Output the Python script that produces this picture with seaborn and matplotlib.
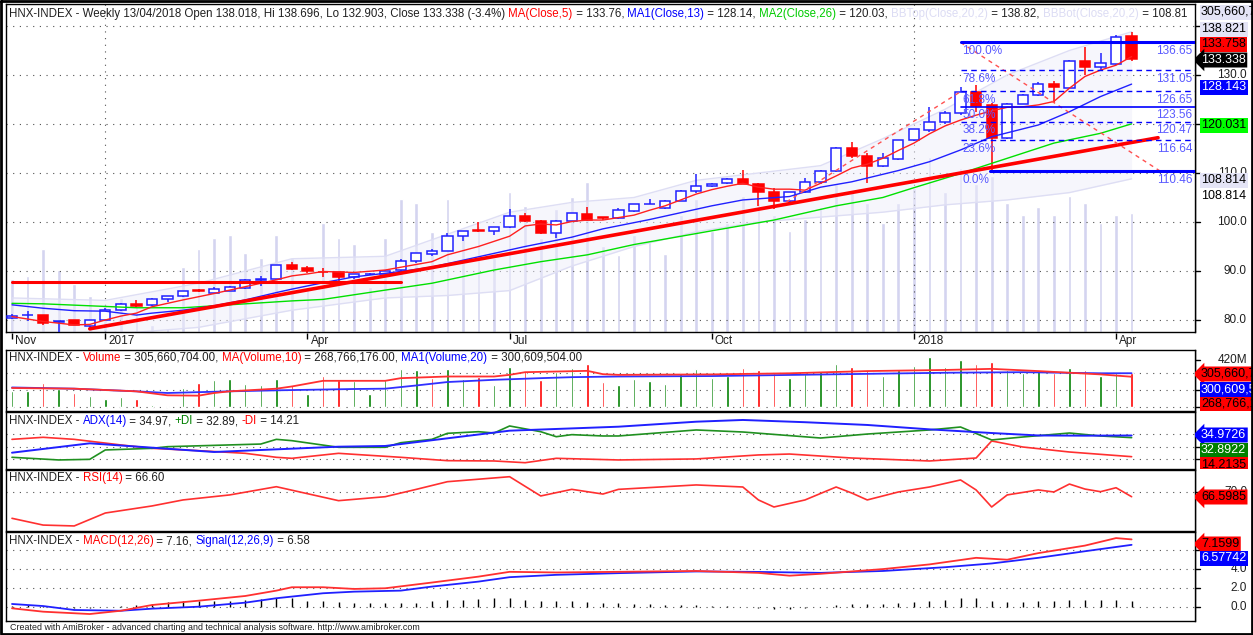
import numpy as np
import matplotlib
matplotlib.use("Agg")
import matplotlib.pyplot as plt
import matplotlib.transforms as mtransforms
import seaborn as sns

W, H = 1253, 635

# ---------------- data ----------------
opens = [80.5, 81.0, 81.0, 79.6, 79.9, 78.8, 80.0, 82.0, 83.2, 83.0,
         84.2, 84.8, 86.1, 85.6, 86.0, 86.5, 88.25, 88.3, 91.2, 90.7,
         89.8, 89.7, 88.7, 89.35, 89.4, 90.2, 92.0, 93.5, 94.1, 97.1,
         98.3, 98.2, 98.9, 101.2, 100.3, 97.7, 100.2, 101.6, 101.0, 100.75,
         102.3, 103.65, 102.8, 104.3, 106.4, 107.3, 107.9, 108.8, 107.8, 106.1,
         104.3, 106.2, 108.1, 110.5, 115.2, 113.5, 111.4, 112.9, 116.7, 118.8,
         120.5, 122.2, 126.6, 123.9, 117.2, 124.1, 125.9, 128.1, 127.4, 132.9,
         131.7, 132.2, 138.018]
highs = [81.2, 81.8, 81.1, 79.7, 80.0, 80.1, 82.5, 83.4, 84.0, 84.5,
         85.0, 86.0, 86.3, 86.8, 87.0, 88.3, 88.9, 91.3, 91.8, 91.1,
         90.6, 89.8, 89.3, 89.5, 90.3, 92.4, 93.7, 94.4, 97.7, 98.2,
         100.1, 99.0, 102.6, 101.8, 100.4, 100.4, 101.9, 103.0, 101.1, 102.8,
         103.7, 104.7, 104.4, 106.5, 109.8, 107.9, 108.9, 110.6, 107.9, 106.9,
         106.2, 108.9, 110.6, 115.3, 116.4, 114.0, 114.1, 116.8, 119.0, 123.4,
         122.7, 127.6, 128.0, 124.2, 124.3, 126.2, 128.6, 128.8, 133.0, 135.8,
         134.5, 138.2, 138.696]
lows = [80.2, 79.8, 78.9, 77.3, 78.9, 78.6, 79.9, 81.8, 82.4, 82.9,
        83.6, 84.6, 85.8, 85.3, 85.9, 86.4, 86.9, 88.2, 90.3, 89.6,
        88.8, 87.8, 88.4, 89.2, 89.3, 90.1, 91.6, 93.0, 94.0, 96.2,
        98.0, 97.3, 98.8, 100.0, 97.6, 96.7, 100.1, 100.3, 100.4, 100.6,
        102.1, 103.6, 102.7, 104.2, 105.9, 107.2, 107.8, 107.7, 103.3, 102.6,
        104.1, 106.0, 107.8, 110.3, 113.0, 108.0, 111.3, 112.7, 116.5, 118.4,
        120.0, 121.8, 122.5, 110.46, 117.0, 124.0, 125.7, 124.3, 127.2, 129.9,
        131.0, 132.0, 132.903]
closes = [80.9, 81.05, 79.3, 79.7, 79.0, 80.0, 82.0, 83.2, 82.9, 84.3,
          84.9, 85.9, 86.0, 86.3, 86.8, 88.2, 88.35, 91.2, 90.5, 89.9,
          89.7, 88.7, 89.3, 89.45, 90.1, 92.0, 93.6, 94.1, 97.1, 98.2,
          98.2, 98.9, 101.2, 100.2, 97.7, 100.3, 101.8, 100.5, 100.9, 102.4,
          103.6, 103.7, 104.3, 106.4, 107.3, 107.8, 108.8, 107.8, 106.1, 104.3,
          106.1, 108.1, 110.5, 115.2, 113.5, 111.4, 113.0, 116.7, 118.9, 120.5,
          122.2, 126.6, 123.7, 117.1, 124.1, 125.9, 128.1, 127.5, 132.9, 131.7,
          132.4, 137.7, 133.338]

# weekly volume, millions, and whether the volume bar is green
volume = [137, 143, 212, 158, 122, 92, 71, 87, 71, 18,
          9, 167, 212, 241, 250, 203, 190, 250, 190, 116,
          280, 241, 226, 116, 241, 340, 331, 256, 340, 250,
          271, 190, 360, 322, 241, 315, 346, 384, 221, 197,
          250, 230, 200, 300, 340, 260, 280, 350, 330, 300,
          260, 290, 320, 380, 360, 330, 280, 330, 370, 450,
          360, 420, 380, 400, 330, 300, 320, 300, 350, 330,
          280, 300, 305.66]
vol_up = "ggrgrgggrgggrgggggrgrrgggggrggrggrrggrrg" + "gggggggrrrggggrrggggggrrgggrgrggr"

tick_bars = [0, 6, 19, 32, 45, 58, 71]
tick_names = ["Nov", "2017", "Apr", "Jul", "Oct", "2018", "Apr"]

ma5_idx = [0, 2, 4, 5, 6, 7, 8, 9, 11, 13, 15, 17, 18, 19, 20, 22, 24, 27, 28, 30,
           32, 33, 34, 35, 36, 37, 38, 40, 41, 42, 44, 45, 46, 47, 48, 49, 50, 51, 52, 53,
           54, 55, 56, 57, 58, 59, 60, 61, 62, 63, 64, 65, 66, 67, 68, 69, 70, 71, 72]
ma5_val = [80.7, 79.7, 79.0, 79.1, 80.0, 80.8, 81.4, 82.7, 84.1, 85.4, 86.8, 88.2, 89.0, 89.4, 89.9, 89.7, 90.2, 91.9, 93.3, 95.0,
           97.1, 99.2, 99.6, 99.4, 100.1, 100.4, 100.4, 101.4, 102.4, 103.3, 105.7, 106.6, 107.3, 107.9, 107.1, 106.7, 106.7, 106.5, 107.9, 109.4,
           111.0, 111.8, 113.0, 114.6, 116.1, 118.0, 119.6, 120.8, 121.8, 122.7, 123.4, 123.5, 123.9, 124.6, 127.3, 129.7, 131.0, 132.0, 133.76]
ma13_idx = [0, 2, 4, 6, 8, 9, 11, 13, 15, 17, 18, 20, 22, 25, 27, 29, 31, 33, 36, 38,
            41, 43, 45, 47, 50, 52, 54, 57, 59, 61, 63, 66, 68, 70, 72]
ma13_val = [83.1, 82.4, 81.9, 81.8, 81.0, 81.4, 82.0, 82.9, 84.1, 85.6, 86.3, 87.6, 88.8, 89.9, 90.8, 92.2, 93.6, 95.0, 96.9, 98.6,
            100.5, 101.9, 103.3, 104.5, 105.2, 107.1, 108.2, 110.5, 112.3, 114.7, 117.4, 119.8, 122.5, 125.6, 128.14]
ma26_idx = [0, 2, 5, 8, 11, 14, 16, 18, 20, 24, 27, 31, 34, 37, 40, 45, 49, 53, 56, 58, 61, 64, 67, 70, 72]
ma26_val = [83.4, 83.3, 82.9, 82.5, 82.5, 83.1, 83.5, 83.9, 84.2, 86.1, 87.5, 90.2, 91.9, 93.3, 95.4, 98.2, 100.4, 103.3, 105.0, 107.0,
            109.9, 113.0, 116.1, 118.1, 120.03]
bb_idx = [0, 6, 12, 18, 24, 28, 32, 36, 40, 44, 48, 52, 56, 60, 64, 68, 72]
bb_top = [84.5, 84.0, 87.5, 92.5, 93.0, 97.5, 102.0, 104.0, 105.0, 108.5, 110.0, 111.5, 117.0, 123.0, 130.0, 135.0, 138.82]
bb_bot = [77.5, 77.0, 78.5, 82.0, 84.5, 85.0, 86.0, 91.0, 95.0, 98.0, 100.0, 101.0, 102.0, 103.5, 104.5, 106.0, 108.81]

trend_x = [5, 73.7]
trend_y = [78.2, 117.2]
flat_x = [0, 25]
flat_y = [87.8, 87.8]
fib_levels = [136.65, 131.05, 126.65, 123.56, 120.47, 116.64, 110.46]
fib_names = ["100.0%", "78.6%", "61.8%", "50.0%", "38.2%", "23.6%", "0.0%"]
fib_diag_x = [61, 73.8]
fib_diag_y = [136.65, 110.46]
chan_x = [49.8, 61]
chan_y = [104.1, 126.6]

vma10_idx = [0, 4, 8, 10, 12, 13, 14, 17, 18, 20, 24, 25, 28, 31, 32, 33, 37, 38, 39, 45, 50, 55, 60, 63, 66, 70, 72]
vma10_val = [167, 161, 137, 101, 98, 122, 137, 161, 181, 232, 232, 256, 271, 271, 286, 310, 322, 292, 286, 290, 300, 320, 330, 340, 320, 290, 268.8]
vma20_idx = [0, 4, 8, 10, 14, 17, 22, 24, 26, 28, 31, 34, 36, 39, 45, 50, 55, 60, 65, 70, 72]
vma20_val = [172, 161, 137, 122, 137, 146, 158, 161, 190, 221, 241, 256, 265, 271, 275, 285, 295, 305, 310, 300, 300.6]

adx_idx = [0, 5, 13, 21, 24, 32, 39, 44, 47, 51, 55, 59, 63, 66, 69, 72]
adx_val = [18.1, 27.3, 18.8, 24.0, 24.7, 39.7, 43.6, 48.5, 50.2, 48.0, 45.3, 41.0, 37.4, 35.0, 34.8, 34.97]
pdi_idx = [0, 3, 5, 6, 9, 10, 16, 17, 18, 21, 24, 25, 27, 28, 30, 31, 32, 34, 35, 36,
           38, 39, 44, 47, 52, 55, 59, 61, 63, 65, 68, 70, 72]
pdi_val = [13.6, 11.0, 11.6, 20.8, 22.4, 24.0, 26.6, 31.2, 29.9, 23.4, 23.4, 27.9, 31.2, 37.1, 38.7, 37.4, 44.3, 38.7, 33.8, 35.8,
           34.5, 34.5, 40.4, 38.4, 32.5, 36.4, 40.4, 43.3, 30.6, 33.5, 37.4, 34.5, 32.89]
mdi_idx = [0, 2, 4, 7, 9, 12, 15, 17, 18, 21, 22, 25, 28, 31, 33, 35, 39, 44, 48, 50, 54, 59, 62, 63, 65, 68, 72]
mdi_val = [31.2, 33.2, 31.2, 25.7, 22.4, 20.1, 17.5, 13.6, 12.6, 17.5, 16.5, 13.6, 10.3, 10.0, 8.3, 12.6, 11.0, 12.0, 15.9, 16.8,
           12.9, 10.0, 12.9, 29.6, 23.7, 18.8, 14.21]

rsi_idx = [0, 2, 4, 6, 9, 11, 14, 17, 21, 24, 26, 28, 32, 34, 36, 38, 39, 44, 47, 48,
           49, 51, 53, 54, 55, 57, 59, 61, 62, 63, 64, 66, 67, 68, 69, 70, 71, 72]
rsi_val = [51.9, 47.3, 46.7, 55.5, 60.3, 64.4, 67.8, 73.4, 63.9, 66.6, 71.6, 76.8, 80.2, 67.1, 71.6, 68.4, 71.6, 74.6, 73.2, 64.4,
           59.6, 64.4, 73.2, 69.1, 64.4, 69.8, 73.2, 78.0, 71.2, 59.6, 67.8, 71.2, 69.8, 75.2, 71.8, 70.0, 72.7, 66.6]

macd_idx = [0, 2, 5, 7, 9, 12, 15, 17, 18, 20, 22, 24, 27, 30, 32, 35, 39, 44, 48, 50, 52, 56, 59, 62, 64, 66, 69, 71, 72]
macd_val = [-0.17, -0.53, -0.78, -0.43, 0.18, 0.64, 1.14, 1.71, 2.07, 2.07, 1.89, 1.96, 2.57, 3.2, 3.71, 3.64, 3.71, 3.8, 3.6, 3.3,
            3.5, 4.0, 4.5, 5.2, 5.0, 5.7, 6.5, 7.3, 7.16]
sig_idx = [0, 2, 4, 7, 9, 12, 15, 17, 20, 22, 25, 27, 30, 32, 35, 39, 44, 48, 52, 56, 60, 63, 66, 69, 72]
sig_val = [0.29, 0.07, -0.35, -0.43, -0.21, 0.0, 0.43, 0.9, 1.43, 1.6, 1.71, 2.14, 2.67, 3.14, 3.39, 3.57, 3.75, 3.7, 3.6, 3.8,
           4.2, 4.6, 5.2, 5.9, 6.58]
macd_hist = [0.1, 0.18, 0.07, 0.0, -0.1, -0.1, 0.0, 0.07, 0.18, 0.25,
             0.46, 0.6, 0.6, 0.64, 0.64, 0.71, 0.82, 0.96, 0.89, 0.6,
             0.6, 0.53, 0.43, 0.35, 0.43, 0.43, 0.43, 0.6, 0.71, 0.71,
             0.82, 0.89, 0.89, 0.71, 0.64, 0.64, 0.6, 0.53, 0.43, 0.35,
             0.3, 0.25, 0.2, 0.15, 0.15, 0.1, 0.05, 0.0, -0.1, -0.2,
             -0.2, -0.1, 0.0, 0.2, 0.3, 0.3, 0.3, 0.4, 0.5, 0.6,
             0.7, 0.9, 0.9, 0.6, 0.5, 0.5, 0.6, 0.6, 0.7, 0.7,
             0.7, 0.7, 0.58]

# ---------------- style ----------------
sns.set_theme(style="white")
plt.rcParams['font.family'] = ['Liberation Sans', 'DejaVu Sans']

BLUE = "#0000ff"
RED = "#ff0000"
LIME = "#00e000"
DKGREEN = "#008000"
LAV = "#d4d4f0"
DOTS = (0, (1, 5))
HEAD_FS = 8.3

fig = plt.figure(figsize=(W / 100, H / 100), dpi=100)
R = fig.canvas.get_renderer()

PL, PR = 6, 1195
XLIM = ((PL - 12) / 15.55, (PR - 12) / 15.55)


def add_ax(x0, y0, x1, y1):
    return fig.add_axes([x0 / W, 1 - y1 / H, (x1 - x0) / W, (y1 - y0) / H])


def panel(y0, y1, ylim):
    ax = add_ax(PL, y0, PR, y1)
    ax.set_xlim(*XLIM)
    ax.set_ylim(*ylim)
    ax.set_xticks([])
    ax.set_yticks([])
    for s in ax.spines.values():
        s.set_color("black")
        s.set_linewidth(1)
    return ax


def line(ax, xs, ys, color, lw=1.0, ls="-", z=5):
    sns.lineplot(x=xs, y=ys, ax=ax, color=color, linewidth=lw, linestyle=ls,
                 estimator=None, sort=False, legend=False, zorder=z)
    ax.set_xlabel("")
    ax.set_ylabel("")


def grid(ax, vals):
    for v in vals:
        ax.axhline(v, color="#505050", lw=0.8, ls=DOTS, zorder=1)


def text_w(s, size):
    t = fig.text(0, 0, s, fontsize=size)
    w = t.get_window_extent(R).width
    t.remove()
    return w


def rich_text(x, y, parts, size=HEAD_FS):
    full = ""
    ref = text_w("x", size)
    for s, c in parts:
        off = text_w(full + "x", size) - ref if full else 0
        fig.text((x + off) / W, 1 - y / H, s, color=c, fontsize=size, va="center", ha="left")
        full += s


def right_axis(ax, y0, y1, ticks, labels):
    r = add_ax(PR, y0, W, y1)
    r.set_xlim(0, W - PR)
    r.set_ylim(y1, y0)
    r.axis("off")
    r.plot([0, 0], [y0, y1], color="black", lw=1)
    tr = mtransforms.blended_transform_factory(r.transData, ax.transData)
    for v in ticks:
        r.plot([0, 5], [v, v], color="black", lw=1, transform=tr, clip_on=True)
    for v, s in labels:
        r.text(52, v, s, transform=tr, ha="right", va="center", fontsize=8.5,
               color="#202020", clip_on=True)
    return r


def value_labels(r, items):
    for s, y, fc, tc, arrow in items:
        style = "larrow,pad=0.12" if arrow else "square,pad=0.12"
        r.text(6, y, s, ha="left", va="center", fontsize=9, color=tc, clip_on=True,
               bbox=dict(boxstyle=style, fc=fc, ec="none"), zorder=5)


idx = np.arange(len(closes))
o = np.array(opens)
c = np.array(closes)
up = c >= o

# ---------------- main price panel ----------------
MAIN_Y = (4, 332)
main_ylim = (100 - (332 - 222) / 4.9, 100 + (222 - 4) / 4.9)
ov = add_ax(PL, MAIN_Y[0], PR, MAIN_Y[1])
ov.set_xlim(*XLIM)
ov.set_ylim(0, 328 / 0.39)
ov.axis("off")
ov.bar(idx, volume, width=0.24, color=LAV, zorder=1)

ax = panel(*MAIN_Y, main_ylim)
ax.patch.set_visible(False)
grid(ax, range(80, 150, 10))
for b in (6, 58):
    ax.axvline(b, color="#505050", lw=0.8, ls=DOTS, zorder=1)

ax.fill_between(bb_idx, bb_bot, bb_top, color="#eeeefb", alpha=0.5, lw=0, zorder=1)
line(ax, bb_idx, bb_top, "#dedef4", 1.0, z=2)
line(ax, bb_idx, bb_bot, "#dedef4", 1.0, z=2)

edge = np.where(up, "#2020ff", RED)
face = np.where(up, "white", RED)
ax.vlines(idx, lows, highs, colors=edge, lw=1.1, zorder=3)
ax.bar(idx, np.abs(c - o), bottom=np.minimum(o, c), width=0.66, color=face,
       edgecolor=edge, linewidth=1.1, zorder=4)

line(ax, ma26_idx, ma26_val, LIME, 1.0)
line(ax, ma13_idx, ma13_val, "#2020ff", 1.0)
line(ax, ma5_idx, ma5_val, "#ff2020", 1.0)
line(ax, trend_x, trend_y, RED, 2.6, z=6)
line(ax, flat_x, flat_y, RED, 2.2, z=6)
line(ax, fib_diag_x, fib_diag_y, "#ff5050", 1.0, (0, (3, 3)), z=6)
line(ax, chan_x, chan_y, "#ff5050", 1.0, (0, (3, 3)), z=6)

fib_start = [61, 61, 61, 61, 61, 61, 62.9]
fib_w = [2.2, 1.0, 1.0, 1.2, 1.0, 1.0, 2.2]
fib_ls = ["-", (0, (4, 3)), (0, (4, 3)), "-", (0, (4, 3)), (0, (4, 3)), "-"]
for lv, nm, x0, lw_, ls_ in zip(fib_levels, fib_names, fib_start, fib_w, fib_ls):
    line(ax, [x0, XLIM[1]], [lv, lv], BLUE, lw_, ls_, z=6)
    ax.annotate(nm, xy=(61.1, lv), xytext=(0, -2), textcoords="offset points",
                ha="left", va="top", fontsize=8.5, color="#5a5aff", zorder=7)
    ax.annotate(f"{lv:.2f}", xy=(XLIM[1], lv), xytext=(-2, -2), textcoords="offset points",
                ha="right", va="top", fontsize=8.5, color="#5a5aff", zorder=7)

rich_text(9, 14, [
    ("HNX-INDEX - Weekly 13/04/2018 Open 138.018, Hi 138.696, Lo 132.903, Close 133.338 (-3.4%) ", "#202020"),
    ("MA(Close,5)", RED), (" = 133.76, ", "#202020"),
    ("MA1(Close,13)", BLUE), (" = 128.14, ", "#202020"),
    ("MA2(Close,26)", "#00cc00"), (" = 120.03, ", "#202020"),
    ("BBTop(Close,20,2)", "#dcdcf4"), (" = 138.82, ", "#202020"),
    ("BBBot(Close,20,2)", "#dcdcf4"), (" = 108.81", "#202020")])

r = right_axis(ax, MAIN_Y[0] + 16, MAIN_Y[1], range(80, 150, 10),
               [(v, f"{v:.1f}") for v in (80, 90, 100, 110, 130)])
value_labels(r, [
    ("138.821", 29, "#e4e4f6", "black", False),
    ("133.758", 44, RED, "black", False),
    ("133.338", 60, "black", "white", True),
    ("128.143", 87, BLUE, "white", False),
    ("120.031", 125, "#00ff00", "black", False),
    ("108.814", 180, "#e4e4f6", "black", False),
    ("108.814", 196, "none", "black", False),
])
rtop = add_ax(PR, MAIN_Y[0], W, MAIN_Y[0] + 16)
rtop.set_xlim(0, W - PR)
rtop.set_ylim(MAIN_Y[0] + 16, MAIN_Y[0])
rtop.axis("off")
value_labels(rtop, [("305,660,704", 12, "#e4e4f6", "black", False)])

# x axis strip
xs = add_ax(PL, 332, PR, 350)
xs.set_xlim(*XLIM)
xs.set_ylim(18, 0)
xs.axis("off")
xs.vlines(tick_bars, 1, 7, color="black", lw=1)
for b, nm in zip(tick_bars, tick_names):
    xs.text(b + 0.2, 9, nm, ha="left", va="center", fontsize=8.5, color="#202020")

# ---------------- volume panel ----------------
VOL_Y = (350, 411)
vk = 0.1107
axv = panel(*VOL_Y, (-(VOL_Y[1] - 406.5) / vk, (406.5 - VOL_Y[0]) / vk))
grid(axv, [0, 150, 300])
vcol = [DKGREEN if f == "g" else RED for f in vol_up]
axv.bar(idx, volume, width=0.16, color=vcol, zorder=3)
line(axv, vma20_idx, vma20_val, "#3030ff", 1.3)
line(axv, vma10_idx, vma10_val, "#ff3030", 1.3)
rich_text(9, 358, [("HNX-INDEX - ", "#202020"), ("Volume", RED),
                   (" = 305,660,704.00, ", "#202020"), ("MA(Volume,10)", RED),
                   (" = 268,766,176.00, ", "#202020"), ("MA1(Volume,20)", BLUE),
                   (" = 300,609,504.00", "#202020")])
rv = right_axis(axv, *VOL_Y, [420, 300, 150, 0], [(420, "420M")])
value_labels(rv, [
    ("305,660,704", 374, RED, "black", True),
    ("300,609,504", 389, BLUE, "white", False),
    ("268,766,176", 404, RED, "black", False),
])

# ---------------- ADX panel ----------------
ADX_Y = (412, 469)
ak = 1.02
axa = panel(*ADX_Y, (34.97 - (ADX_Y[1] - 435.5) / ak, 34.97 + (435.5 - ADX_Y[0]) / ak))
grid(axa, [36.4, 23.7, 11.9])
line(axa, mdi_idx, mdi_val, "#ff3030", 1.2)
line(axa, pdi_idx, pdi_val, "#209020", 1.2)
line(axa, adx_idx, adx_val, "#2020ff", 1.4)
rich_text(9, 421, [("HNX-INDEX - ", "#202020"), ("ADX(14)", BLUE), (" = 34.97, ", "#202020"),
                   ("+DI", DKGREEN), (" = 32.89, ", "#202020"), ("-DI", RED), (" = 14.21", "#202020")])
ra = right_axis(axa, *ADX_Y, [36.4, 23.7, 11.9], [])
value_labels(ra, [
    ("34.9726", 435, BLUE, "white", True),
    ("32.8922", 450, DKGREEN, "white", False),
    ("14.2135", 465, RED, "black", False),
])

# ---------------- RSI panel ----------------
RSI_Y = (470, 531)
rk = 1.47
axr = panel(*RSI_Y, (70 - (RSI_Y[1] - 491.7) / rk, 70 + (491.7 - RSI_Y[0]) / rk))
grid(axr, [70])
line(axr, rsi_idx, rsi_val, "#ff3030", 1.2)
rich_text(9, 478, [("HNX-INDEX - ", "#202020"), ("RSI(14)", RED), (" = 66.60", "#202020")])
rr = right_axis(axr, *RSI_Y, [70], [(70, "70.0")])
value_labels(rr, [("66.5985", 497, RED, "black", True)])

# ---------------- MACD panel ----------------
MACD_Y = (532, 621)
mk = 9.4
axm = panel(*MACD_Y, (-(MACD_Y[1] - 606.7) / mk, (606.7 - MACD_Y[0]) / mk))
grid(axm, [0, 2, 4, 6])
axm.vlines(idx, 0, macd_hist, color="black", lw=1, zorder=3)
line(axm, sig_idx, sig_val, "#2020ff", 1.3)
line(axm, macd_idx, macd_val, "#ff3030", 1.3)
rich_text(9, 541, [("HNX-INDEX - ", "#202020"), ("MACD(12,26)", RED), (" = 7.16, ", "#202020"),
                   ("Signal(12,26,9)", BLUE), (" = 6.58", "#202020")])
rm = right_axis(axm, *MACD_Y, [0, 2, 4, 6], [(0, "0.0"), (2, "2.0"), (4, "4.0")])
value_labels(rm, [
    ("7.1599", 544, RED, "black", True),
    ("6.57742", 558, BLUE, "white", False),
])

fig.text(10 / W, 1 - 628 / H,
         "Created with AmiBroker - advanced charting and technical analysis software. http://www.amibroker.com",
         fontsize=6.4, color="#202020", va="center", ha="left")

# outer frame
frame = fig.add_axes([0, 0, 1, 1])
frame.set_xlim(0, W)
frame.set_ylim(H, 0)
frame.axis("off")
frame.patch.set_visible(False)
frame.plot([1, W - 1, W - 1, 1, 1], [1, 1, H - 1, H - 1, 1], color="black", lw=2)

fig.savefig("out.png", dpi=100)
